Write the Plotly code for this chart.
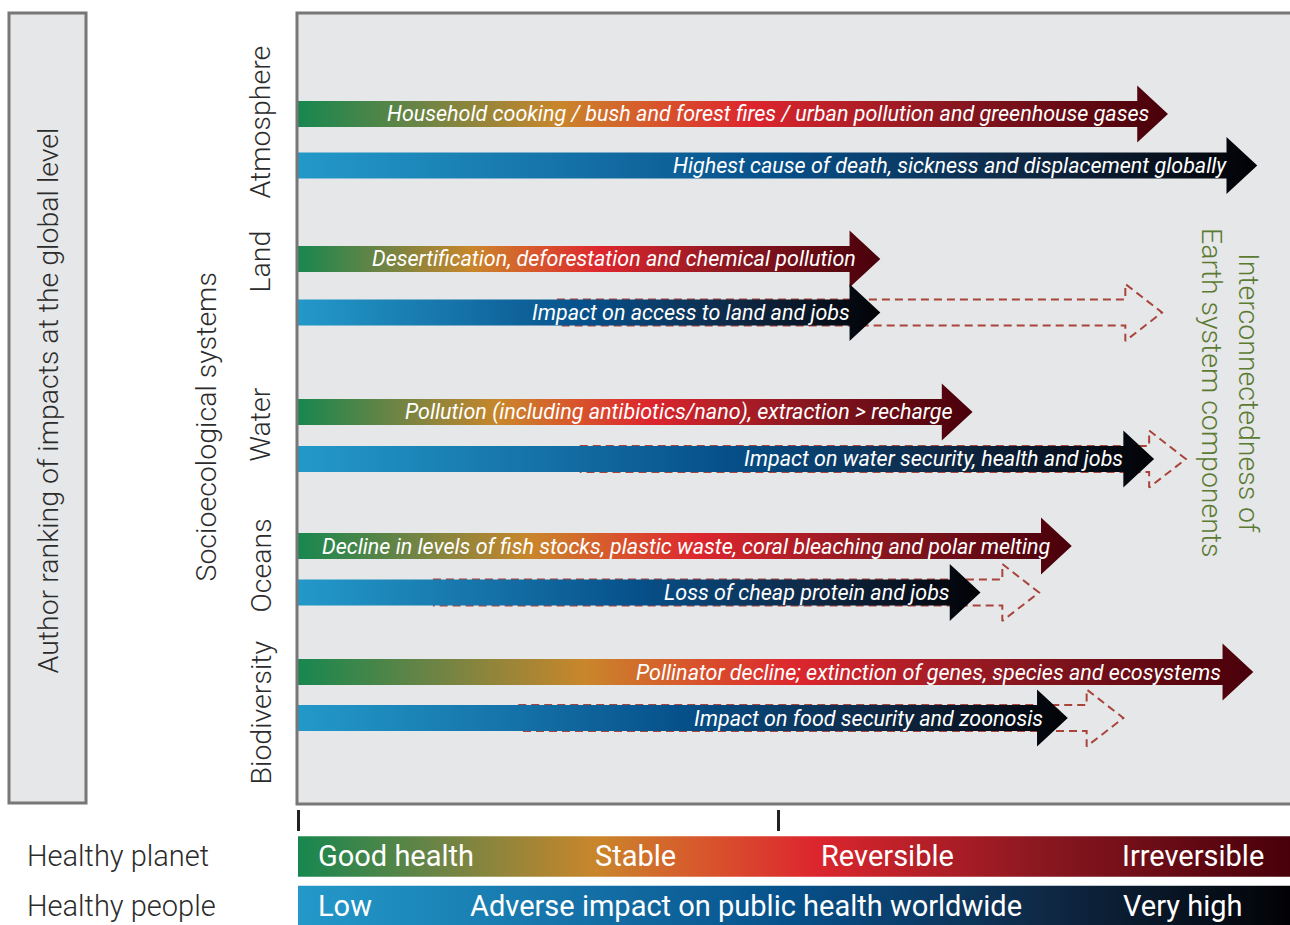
import plotly.graph_objects as go

# ---------------- data ----------------
SYSTEMS = ["Atmosphere", "Land", "Water", "Oceans", "Biodiversity"]

PLANET_TEXT = [
    "Household cooking / bush and forest fires / urban pollution and greenhouse gases",
    "Desertification, deforestation and chemical pollution",
    "Pollution (including antibiotics/nano), extraction > recharge",
    "Decline in levels of fish stocks, plastic waste, coral bleaching and polar melting",
    "Pollinator decline; extinction of genes, species and ecosystems",
]
PEOPLE_TEXT = [
    "Highest cause of death, sickness and displacement globally",
    "Impact on access to land and jobs",
    "Impact on water security, health and jobs",
    "Loss of cheap protein and jobs",
    "Impact on food security and zoonosis",
]
# impact ranking (0 = good health / low, 100 = irreversible / very high)
PLANET_IMPACT = [87.7, 58.7, 68.0, 78.0, 96.3]
PEOPLE_IMPACT = [96.7, 58.7, 86.3, 68.8, 77.6]
# potential (dashed) future impact on people
POTENTIAL_START = [None, 26.1, 28.4, 13.6, 22.2]
POTENTIAL_IMPACT = [None, 87.1, 89.5, 74.7, 83.2]

SCALE_TICKS = [0, 48.4]

PLANET_SCALE_LABELS = ["Good health", "Stable", "Reversible", "Irreversible"]
PEOPLE_SCALE_LABELS = ["Low", "Adverse impact on public health worldwide", "Very high"]

# ---------------- layout constants ----------------
W, H = 1290, 925
def pxx(p):
    return p / W
def pxy(p):
    return 1 - p / H

PLANET_ROW_Y = [114, 259, 412, 546, 672]
PEOPLE_ROW_Y = [165.5, 312.5, 459, 592.5, 718]
LABEL_Y = [122, 262, 425, 566, 713]
PLANET_TEXT_SHIFT = [14, 8, 12, 12, 0]
PEOPLE_TEXT_SHIFT = [2, 2, 2, 2, 8]
BODY_H = 13
HEAD_H = 28.5
HEAD_LEN = 3.1
DASH_HEAD_LEN = 3.7

PLANET_SCALE = [[0, "#17874f"], [0.14, "#6b8445"], [0.3, "#c9862b"], [0.4, "#d75a2c"],
                [0.52, "#dd262e"], [0.75, "#8a1720"], [1, "#48000a"]]
PEOPLE_SCALE = [[0, "#2399c9"], [0.28, "#1572a8"], [0.5, "#06508a"], [0.75, "#0f2946"],
                [1, "#020205"]]

FONT = "Roboto"
LABEL_COLOR = "#2b2b2b"

fig = go.Figure()


def arrow(x0, x1, yc, hl):
    xb = x1 - hl
    xs = [x0, xb, xb, x1, xb, xb, x0, x0]
    ys = [yc - BODY_H, yc - BODY_H, yc - HEAD_H, yc, yc + HEAD_H, yc + BODY_H, yc + BODY_H, yc - BODY_H]
    return xs, ys


# dashed potential arrows (behind)
for i in range(len(SYSTEMS)):
    if POTENTIAL_IMPACT[i] is None:
        continue
    s, t, yc = POTENTIAL_START[i], POTENTIAL_IMPACT[i], PEOPLE_ROW_Y[i]
    xb = t - DASH_HEAD_LEN
    xs = [s, xb, xb, t, xb, xb, s]
    ys = [yc - BODY_H, yc - BODY_H, yc - HEAD_H, yc, yc + HEAD_H, yc + BODY_H, yc + BODY_H]
    fig.add_trace(go.Scatter(x=xs, y=ys, mode="lines",
                             line=dict(color="#a9443b", width=2, dash="8px,5px"),
                             hoverinfo="skip", showlegend=False))

# solid arrows
for i in range(len(SYSTEMS)):
    for val, yc, scale in [(PLANET_IMPACT[i], PLANET_ROW_Y[i], PLANET_SCALE),
                           (PEOPLE_IMPACT[i], PEOPLE_ROW_Y[i], PEOPLE_SCALE)]:
        xs, ys = arrow(0, val, yc, HEAD_LEN)
        fig.add_trace(go.Scatter(x=xs, y=ys, mode="none", fill="toself",
                                 fillgradient=dict(type="horizontal", colorscale=scale),
                                 hoverinfo="skip", showlegend=False))

# bottom scale bars
for row, scale in [(1, PLANET_SCALE), (0, PEOPLE_SCALE)]:
    hh = 0.41
    fig.add_trace(go.Scatter(x=[0, 100, 100, 0, 0], y=[row - hh, row - hh, row + hh, row + hh, row - hh],
                             xaxis="x", yaxis="y2", mode="none", fill="toself",
                             fillgradient=dict(type="horizontal", colorscale=scale),
                             hoverinfo="skip", showlegend=False))

annotations = []
arrow_font = dict(family=FONT, size=21.5, color="white", style="italic")
for i in range(len(SYSTEMS)):
    annotations.append(dict(x=PLANET_IMPACT[i] - HEAD_LEN, y=PLANET_ROW_Y[i], xref="x", yref="y",
                            text=PLANET_TEXT[i], showarrow=False, xanchor="right", yanchor="middle",
                            xshift=PLANET_TEXT_SHIFT[i], font=arrow_font))
    annotations.append(dict(x=PEOPLE_IMPACT[i] - HEAD_LEN, y=PEOPLE_ROW_Y[i], xref="x", yref="y",
                            text=PEOPLE_TEXT[i], showarrow=False, xanchor="right", yanchor="middle",
                            xshift=PEOPLE_TEXT_SHIFT[i], font=arrow_font))
    annotations.append(dict(x=pxx(242), y=LABEL_Y[i], xref="paper", yref="y", text=SYSTEMS[i],
                            textangle=-90, showarrow=False,
                            font=dict(family=FONT, size=28.5, color=LABEL_COLOR, weight=300)))

annotations += [
    dict(x=pxx(29), y=pxy(401), xref="paper", yref="paper",
         text="Author ranking of impacts at the global level", textangle=-90, showarrow=False,
         font=dict(family=FONT, size=28.5, color=LABEL_COLOR, weight=300)),
    dict(x=pxx(188), y=pxy(427), xref="paper", yref="paper",
         text="Socioecological systems", textangle=-90, showarrow=False,
         font=dict(family=FONT, size=28.5, color=LABEL_COLOR, weight=300)),
    dict(x=pxx(1267), y=pxy(393), xref="paper", yref="paper",
         text="Interconnectedness of<br>Earth system components", textangle=90, showarrow=False,
         font=dict(family=FONT, size=28.5, color="#5b7a32", weight=300)),
    dict(x=pxx(25), y=1, xref="paper", yref="y2", text="Healthy planet", xanchor="left",
         showarrow=False, font=dict(family=FONT, size=29, color=LABEL_COLOR, weight=300)),
    dict(x=pxx(25), y=0, xref="paper", yref="y2", text="Healthy people", xanchor="left",
         showarrow=False, font=dict(family=FONT, size=29, color=LABEL_COLOR, weight=300)),
]
bar_font = dict(family=FONT, size=29, color="white")
for lab, xv, anc in zip(PLANET_SCALE_LABELS, [1.8, 34.0, 59.4, 97.6], ["left", "center", "center", "right"]):
    annotations.append(dict(x=xv, y=1, xref="x", yref="y2", text=lab, xanchor=anc,
                            showarrow=False, font=bar_font))
for lab, xv, anc in zip(PEOPLE_SCALE_LABELS, [1.8, 45.2, 89.2], ["left", "center", "center"]):
    annotations.append(dict(x=xv, y=0, xref="x", yref="y2", text=lab, xanchor=anc,
                            showarrow=False, font=bar_font))

shapes = [
    # main panel background (open to the right edge)
    dict(type="rect", xref="paper", yref="paper", x0=pxx(297), x1=pxx(1300), y0=pxy(804), y1=pxy(13),
         fillcolor="#e6e7e8", line=dict(width=0), layer="below"),
    dict(type="rect", xref="paper", yref="paper", x0=pxx(297), x1=pxx(1300), y0=pxy(804), y1=pxy(13),
         line=dict(color="#777777", width=3), layer="above"),
    # left box
    dict(type="rect", xref="paper", yref="paper", x0=pxx(9), x1=pxx(86), y0=pxy(803), y1=pxy(13),
         fillcolor="#e6e7e8", line=dict(color="#777777", width=3), layer="below"),
]

fig.update_layout(
    width=W, height=H, autosize=False,
    margin=dict(l=0, r=0, t=0, b=0),
    paper_bgcolor="white", plot_bgcolor="rgba(0,0,0,0)",
    showlegend=False,
    xaxis=dict(domain=[pxx(298), 1], range=[0, 100], anchor="free", position=pxy(809),
               showgrid=False, zeroline=False, showline=False,
               tickvals=SCALE_TICKS, ticks="outside", ticklen=21, tickwidth=3, tickcolor="#222",
               showticklabels=False, fixedrange=True),
    yaxis=dict(domain=[pxy(803), pxy(14)], range=[803, 14], visible=False, fixedrange=True),
    yaxis2=dict(domain=[0, pxy(830)], range=[-0.384, 1.535], anchor="x", visible=False, fixedrange=True),
    annotations=annotations,
    shapes=shapes,
)

fig.write_html("out.html", config={"displayModeBar": False},
               post_script="document.body.style.margin='0';document.body.style.overflow='hidden';")
